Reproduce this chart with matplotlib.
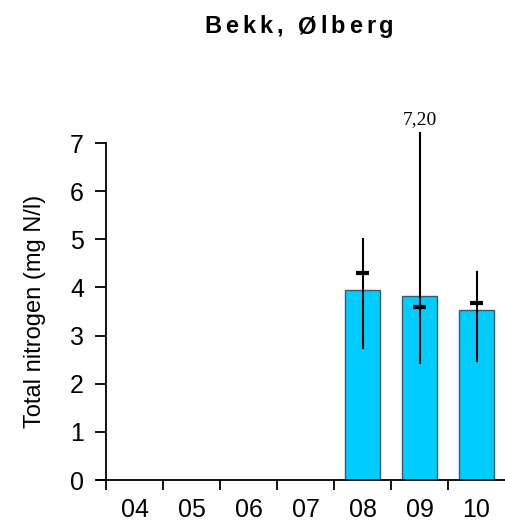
import numpy as np
import matplotlib.pyplot as plt
from matplotlib.font_manager import FontProperties

plt.rcParams['font.family'] = ['Liberation Sans', 'DejaVu Sans']

years = ['04', '05', '06', '07', '08', '09', '10']
mean = [np.nan, np.nan, np.nan, np.nan, 3.95, 3.82, 3.53]
median = [np.nan, np.nan, np.nan, np.nan, 4.30, 3.60, 3.68]
vmin = [np.nan, np.nan, np.nan, np.nan, 2.74, 2.44, 2.48]
vmax = [np.nan, np.nan, np.nan, np.nan, 5.00, 7.20, 4.33]
title = 'Bekk, Ølberg'
ylabel = 'Total nitrogen (mg N/l)'

fig = plt.figure(figsize=(5.05, 5.21), dpi=100)
ax = fig.add_axes([97/505, 41/521, 1 - 97/505, (480-143)/521])

x = np.arange(len(years))
ax.bar(x, mean, width=0.6, color='#00CCFF', edgecolor='#3a5a66', linewidth=1, zorder=2)
for xi, m, lo, hi in zip(x, median, vmin, vmax):
    if np.isnan(m):
        continue
    ax.plot([xi, xi], [lo, hi], color='black', lw=1.5, zorder=3, clip_on=False)
    ax.plot([xi - 0.12, xi + 0.12], [m, m], color='black', lw=3, zorder=3,
            solid_capstyle='butt', clip_on=False)
    if hi > 7:
        ax.text(xi, hi + 0.12, f'{hi:.2f}'.replace('.', ','), ha='center', va='bottom',
                fontsize=14, family='Liberation Serif')

ax.set_xlim(-0.66, 6.5)
ax.set_ylim(0, 7)
ax.spines['top'].set_visible(False)
ax.spines['right'].set_visible(False)
ax.spines['left'].set_position(('data', -0.5))
ax.spines['left'].set_linewidth(1.3)
ax.spines['bottom'].set_linewidth(1.3)

ax.set_yticks(range(8))
ax.tick_params(axis='y', direction='out', length=8, width=1.3, labelsize=18, pad=8)
ax.set_xticks(np.arange(-0.5, 6, 1))
ax.set_xticklabels([])
ax.set_xticks(x, minor=True)
ax.set_xticklabels(years, minor=True)
ax.tick_params(axis='x', which='major', direction='out', length=7, width=1.3)
ax.tick_params(axis='x', which='minor', length=0, labelsize=18, pad=13)
ax.set_ylabel(ylabel, fontsize=17, labelpad=17)

# title with letter spacing, placed char by char
fp = FontProperties(family='Liberation Sans', weight='bold', size=17)
renderer = fig.canvas.get_renderer()
spacing = 4.0
rights = []
for i, ch in enumerate(title):
    w, h, d = renderer.get_text_width_height_descent(title[:i + 1], fp, ismath=False)
    rights.append(w + i * spacing)
total = rights[-1]
x0 = 299 - total / 2
for ch, r in zip(title, rights):
    if ch == ' ':
        continue
    fig.text((x0 + r) / 505, 1 - 33 / 521, ch, fontproperties=fp, ha='right', va='baseline')

fig.savefig('out.png', dpi=100)
